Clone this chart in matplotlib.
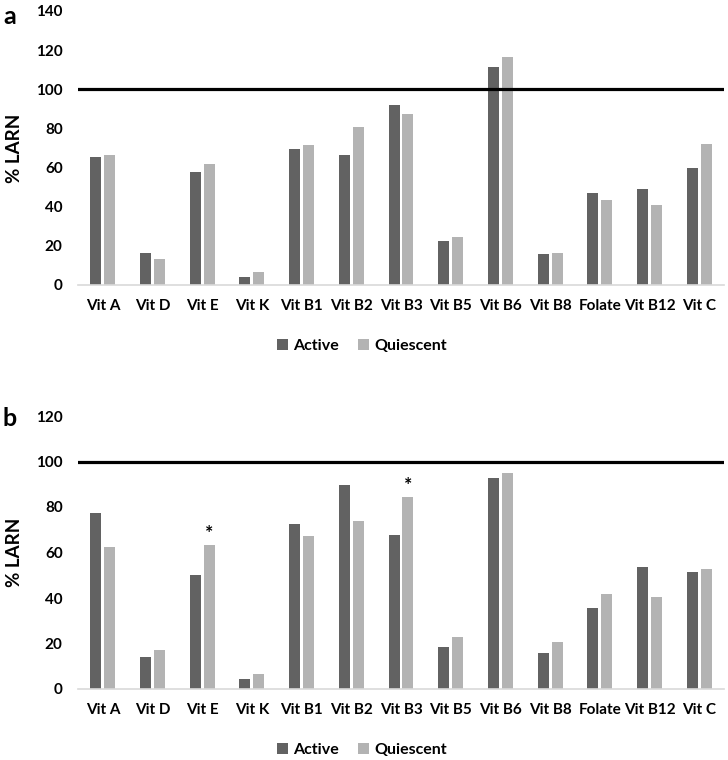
import numpy as np
import matplotlib
matplotlib.use('Agg')
import matplotlib.pyplot as plt

plt.rcParams['font.family'] = ['Lato', 'DejaVu Sans']
plt.rcParams['font.weight'] = 'bold'

vitamins = ['Vit A', 'Vit D', 'Vit E', 'Vit K', 'Vit B1', 'Vit B2', 'Vit B3',
            'Vit B5', 'Vit B6', 'Vit B8', 'Folate', 'Vit B12', 'Vit C']

# panel a
active_a = [65.2, 16.2, 57.6, 4.3, 69.5, 66.3, 91.8, 22.7, 111.4, 15.7, 47.2, 49.1, 59.6]
quiescent_a = [66.4, 13.3, 62.0, 6.8, 71.7, 80.6, 87.2, 24.4, 116.3, 16.2, 43.4, 40.7, 72.1]

# panel b
active_b = [77.4, 14.2, 50.2, 4.5, 72.4, 89.6, 67.5, 18.6, 92.7, 16.0, 35.6, 53.5, 51.3]
quiescent_b = [62.6, 17.2, 63.3, 6.7, 67.3, 73.8, 84.3, 22.9, 95.0, 20.5, 41.8, 40.3, 52.8]
stars_b = [2, 6]  # significant differences (quiescent bar)

dark = '#626262'
light = '#b3b3b3'

fig = plt.figure(figsize=(7.28, 7.6), dpi=100)
ax_a = fig.add_axes([78 / 728, 1 - 285 / 760, 646 / 728, 274 / 760])
ax_b = fig.add_axes([78 / 728, 1 - 689 / 760, 646 / 728, 273 / 760])


def draw_panel(ax, active, quiescent, ymax, legend_y):
    x = np.arange(len(vitamins))
    w = 0.22
    ax.bar(x - 0.14, active, width=w, color=dark, label='Active')
    ax.bar(x + 0.14, quiescent, width=w, color=light, label='Quiescent')
    ax.axhline(100, color='black', linewidth=2.3)
    ax.set_xlim(-0.5, len(vitamins) - 0.5)
    ax.set_ylim(0, ymax)
    ax.set_yticks(np.arange(0, ymax + 1, 20))
    ax.set_xticks(x)
    ax.set_xticklabels(vitamins, fontsize=11, fontweight='bold')
    ax.tick_params(axis='both', length=0, labelsize=11)
    ax.tick_params(axis='y', pad=11)
    ax.tick_params(axis='x', pad=10)
    for side in ['top', 'right', 'left']:
        ax.spines[side].set_visible(False)
    ax.spines['bottom'].set_color('#d9d9d9')
    ax.spines['bottom'].set_linewidth(1.2)
    ax.set_ylabel('% LARN', fontsize=13.5, fontweight='bold')
    ax.yaxis.set_label_coords(-55 / 646, 0.5)
    ax.legend(loc='center', bbox_to_anchor=(362 / 728, 1 - legend_y / 760),
              bbox_transform=fig.transFigure, ncol=2, frameon=False,
              fontsize=11.5, handlelength=0.7, handleheight=0.7,
              handletextpad=0.3, columnspacing=1.2)


draw_panel(ax_a, active_a, quiescent_a, 140, 346)
draw_panel(ax_b, active_b, quiescent_b, 120, 750)

for i in stars_b:
    ax_b.text(i + 0.14, quiescent_b[i] + 1.5, '*', ha='center', va='bottom',
              fontsize=14, fontweight='bold')

fig.text(3 / 728, 1 - 17 / 760, 'a', fontsize=18, fontweight='bold', va='center')
fig.text(3 / 728, 1 - 419 / 760, 'b', fontsize=18, fontweight='bold', va='center')

fig.savefig('out.png', dpi=100)
